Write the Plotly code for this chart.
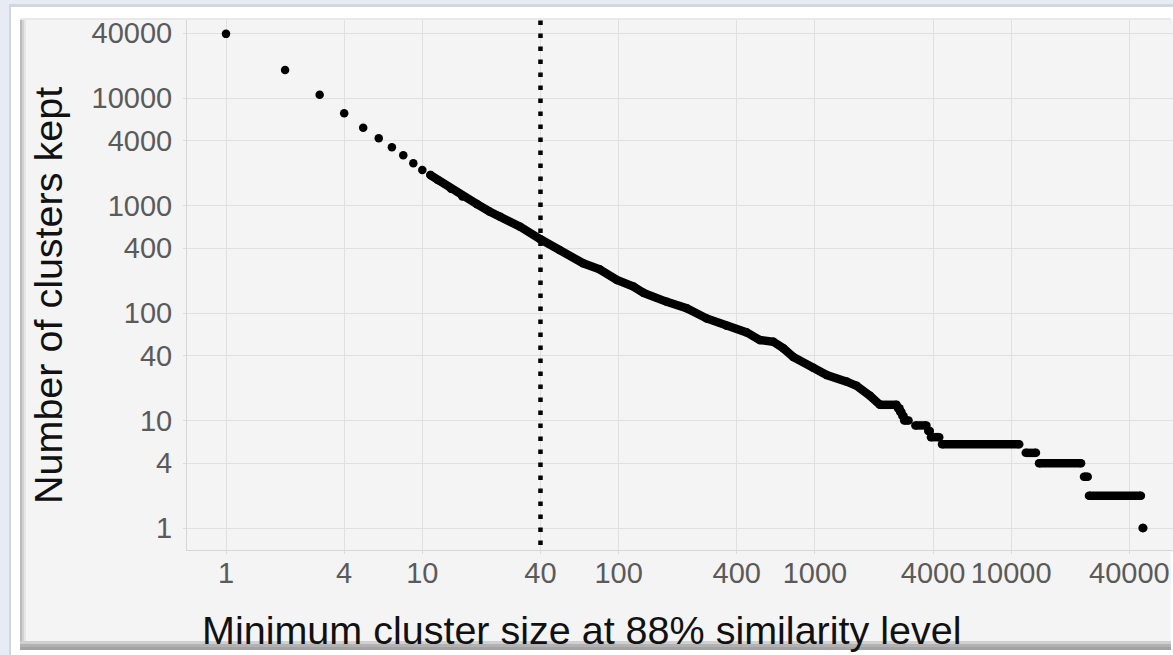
import plotly.graph_objects as go

# ---------------- data ----------------
# individual, well separated points (minimum cluster size -> clusters kept)
sparse_min_size = [1, 2, 3, 4, 5, 6, 7, 8, 9, 10, 11]
sparse_kept = [39500, 18200, 10700, 7200, 5300, 4220, 3480, 2930, 2470, 2140, 1920]

# dense part of the curve, where the points merge into a thick line
dense_min_size = [11, 12, 14, 16, 19, 22, 25, 31.5, 40, 50, 66, 80, 98, 119, 134,
                  176, 222, 281, 355, 449, 525, 614, 690, 776, 981, 1148, 1452,
                  1633, 1909, 2146]
dense_kept = [1920, 1730, 1430, 1210, 1030, 880, 787, 635, 485, 385, 290, 255, 203,
              176, 154, 127, 111, 89, 76, 66, 56, 54, 47, 39, 31, 26.5, 23, 21,
              17, 14]

# plateaus of the step function at small counts: (count, first size, last size)
plateau_kept = [14, 13, 12, 11, 10, 9, 8, 7, 6, 5, 4, 3, 2, 1]
plateau_start = [2146, 2650, 2720, 2790, 2850, 3250, 3780, 3900, 4443, 11860, 13860,
                 23490, 24900, 46700]
plateau_end = [2610, 2700, 2760, 2830, 3000, 3700, 3850, 4300, 10990, 13370, 22700,
               24540, 45800, 47100]

threshold_size = 40

tick_vals = [1, 4, 10, 40, 100, 400, 1000, 4000, 10000, 40000]
tick_text = ["1", "4", "10", "40", "100", "400", "1000", "4000", "10000", "40000"]

x_title = "Minimum cluster size at 88% similarity level"
y_title = "Number of clusters kept"

# ---------------- figure ----------------
W, H = 1173, 655
L, R, T, B = 187, 1173, 20, 550


def pxx(px):
    return (px - L) / (R - L)


def pxy(py):
    return (B - py) / (B - T)


MS = 8.5
FONT = "Liberation Sans, Arial, sans-serif"
fig = go.Figure()

fig.add_trace(go.Scatter(
    x=sparse_min_size, y=sparse_kept, mode="markers",
    marker=dict(color="black", size=MS, line=dict(width=0)),
    showlegend=False, hoverinfo="x+y"))

fig.add_trace(go.Scatter(
    x=dense_min_size, y=dense_kept, mode="lines+markers",
    line=dict(color="black", width=MS),
    marker=dict(color="black", size=MS, line=dict(width=0)),
    showlegend=False, hoverinfo="x+y"))

px_, py_ = [], []
for k, s, e in zip(plateau_kept, plateau_start, plateau_end):
    px_ += [s, e, None]
    py_ += [k, k, None]
fig.add_trace(go.Scatter(
    x=px_, y=py_, mode="lines+markers",
    line=dict(color="black", width=MS),
    marker=dict(color="black", size=MS, line=dict(width=0)),
    showlegend=False, hoverinfo="x+y", connectgaps=False))

# threshold line
fig.add_shape(type="line", xref="x", yref="paper",
              x0=threshold_size, x1=threshold_size, y0=pxy(545), y1=pxy(13),
              line=dict(color="black", width=4.5, dash="4.5px,8.5px"), layer="above")


# frame / panel decoration
def rect(x0, y0, x1, y1, color):
    fig.add_shape(type="rect", xref="paper", yref="paper",
                  x0=pxx(x0), x1=pxx(x1), y0=pxy(y1), y1=pxy(y0),
                  line=dict(width=0), fillcolor=color, layer="below")


rect(0, 0, 10, H, "#e6ebf4")
rect(0, 0, W, 5, "#e6ebf4")
rect(9, 5, 11, H, "#d2d7df")
rect(9, 4, W, 7, "#d2d7df")
rect(20, 18, W - 2, 643, "#f4f4f4")
rect(20, 18, 22, 643, "#b9b9b9")
rect(22, 18, 24, 643, "#d2d2d2")
rect(24, 18, 26, 643, "#e6e6e6")
rect(20, 18, W - 2, 20, "#e9e9e9")
rect(20, 641, W - 2, 644, "#d0d0d0")
rect(20, 644, W - 2, 647, "#b2b2b2")
rect(20, 647, W - 2, 650, "#a3a3a3")

axis_common = dict(
    type="log", tickmode="array", tickvals=tick_vals, ticktext=tick_text,
    showgrid=True, gridcolor="#e0e0e0", gridwidth=1,
    showline=True, linecolor="#d6d6d6", linewidth=1,
    ticks="outside", ticklen=3, tickcolor="#dcdcdc",
    tickfont=dict(family=FONT, size=29, color="#5a5a5a"),
    zeroline=False,
)

fig.update_xaxes(range=[(L - 226) / 196.3, (R - 226) / 196.3], **axis_common,
                 ticklabelstandoff=-6)
fig.update_yaxes(range=[(528 - B) / 107.5, (528 - T) / 107.5], **axis_common,
                 ticklabelstandoff=5)

fig.add_annotation(text=x_title, xref="paper", yref="paper", x=pxx(581), y=pxy(630),
                   showarrow=False, xanchor="center", yanchor="middle",
                   font=dict(family=FONT, size=39.5, color="#111111"))
fig.add_annotation(text=y_title, xref="paper", yref="paper", x=pxx(48), y=pxy(296),
                   showarrow=False, xanchor="center", yanchor="middle", textangle=-90,
                   font=dict(family=FONT, size=39.5, color="#111111"))

fig.update_layout(
    width=W, height=H, autosize=False,
    margin=dict(l=L, r=W - R, t=T, b=H - B, pad=0),
    paper_bgcolor="#ffffff", plot_bgcolor="#f4f4f4",
    showlegend=False,
)

fig.write_html("out.html", config={"displayModeBar": False},
               post_script="document.body.style.margin='0';document.body.style.overflow='hidden';")
